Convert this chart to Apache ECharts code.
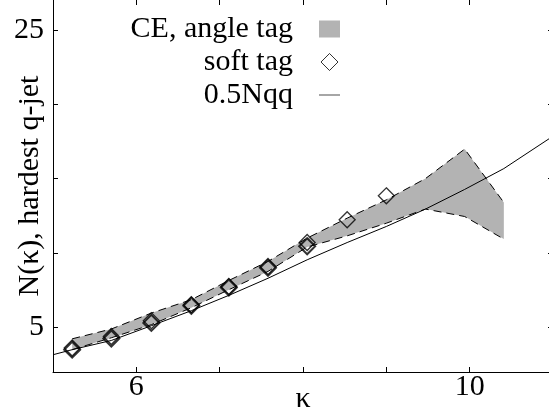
<!DOCTYPE html>
<html>
<head>
<meta charset="utf-8">
<script src="https://cdn.jsdelivr.net/npm/echarts@6/dist/echarts.min.js"></script>
<style>html,body{margin:0;padding:0;background:#fff}#main{width:549px;height:410px}</style>
</head>
<body>
<div id="main"></div>
<script>
// CE angle tag band (upper / lower edge)
var ceKappa = [5.23, 5.70, 6.18, 6.66, 7.11, 7.58, 8.05, 8.53, 9.00, 9.47, 9.94, 10.41];
var ceUpper = [4.23, 4.89, 5.96, 6.86, 8.15, 9.43, 11.0, 12.34, 13.57, 15.0, 16.98, 13.39];
var ceLower = [3.50, 4.30, 5.18, 6.32, 7.53, 8.76, 10.4, 11.15, 12.0, 12.95, 12.45, 10.93];

// soft tag markers (two overlapping sets)
var softKappa = [5.23, 5.70, 6.18, 6.66, 7.11, 7.58, 8.05, 8.53, 9.00];
var softTag = [3.61, 4.39, 5.45, 6.52, 7.75, 9.09, 10.7, 12.23, 13.84];
var softTag2 = [3.50, 4.25, 5.30, 6.45, 7.68, 9.00, 10.45];

// 0.5 Nqq curve
var nqqKappa = [5.0, 5.23, 5.70, 6.18, 6.66, 7.11, 7.58, 8.05, 8.53, 9.00, 9.47, 9.94, 10.41, 11.0];
var nqq = [3.16, 3.50, 4.12, 5.11, 6.12, 7.15, 8.30, 9.54, 10.7, 11.78, 12.95, 14.27, 15.67, 17.85];

var xTicks = [6, 7, 8, 9, 10];
var xLabels = [6, 10];
var yTicks = [5, 10, 15, 20, 25];
var yLabels = [5, 25];

function pairs(xs, ys) {
	return ys.map(function (y, i) { return [xs[i], y]; });
}

var font = 'Liberation Serif';
var myChart = echarts.init(document.getElementById('main'));

option = {
	animation: false,
	backgroundColor: '#fff',
	textStyle: { fontFamily: font, color: '#000' },
	grid: { left: 53, top: 0, width: 500, height: 372, containLabel: false, outerBoundsMode: 'none' },
	legend: {
		orient: 'vertical',
		align: 'right',
		right: 209,
		top: 14,
		padding: 0,
		itemGap: 3,
		itemWidth: 21,
		itemHeight: 17,
		textStyle: { fontFamily: font, fontSize: 30, color: '#000', padding: [0, 21, 0, 0] },
		data: [
			{ name: 'CE, angle tag', icon: 'rect', itemStyle: { color: '#b3b3b3' } },
			{ name: 'soft tag', icon: 'path://M0,-1L1,0L0,1L-1,0Z', itemStyle: { color: '#fff', borderColor: '#000', borderWidth: 1 } },
			{ name: '0.5Nqq', icon: 'path://M0,0L21,0L21,1.5L0,1.5Z', itemStyle: { color: '#888' } }
		]
	},
	xAxis: [{
		type: 'value', min: 5, max: 11,
		name: 'κ', nameLocation: 'middle', nameGap: 12, nameMoveOverlap: false,
		nameTextStyle: { fontFamily: font, fontSize: 30, color: '#000' },
		axisLine: { lineStyle: { color: '#000', width: 1 } },
		axisTick: { inside: true, length: 5, customValues: xTicks, lineStyle: { color: '#000' } },
		axisLabel: { customValues: xLabels, margin: 0, fontFamily: font, fontSize: 30, color: '#000' },
		splitLine: { show: false }
	}, {
		type: 'value', min: 5, max: 11, position: 'top',
		axisLine: { show: false },
		axisTick: { inside: true, length: 5, customValues: xTicks, lineStyle: { color: '#000' } },
		axisLabel: { show: false },
		splitLine: { show: false }
	}],
	yAxis: [{
		type: 'value', min: 2, max: 27,
		name: 'N(κ), hardest q-jet', nameLocation: 'middle', nameGap: 8, nameRotate: 90, nameMoveOverlap: false,
		nameTextStyle: { fontFamily: font, fontSize: 30, color: '#000' },
		axisLine: { show: true, lineStyle: { color: '#000', width: 1 } },
		axisTick: { show: true, inside: true, length: 5, customValues: yTicks, lineStyle: { color: '#000' } },
		axisLabel: { customValues: yLabels, margin: 9, fontFamily: font, fontSize: 30, color: '#000' },
		splitLine: { show: false }
	}, {
		type: 'value', min: 2, max: 27, position: 'right',
		axisLine: { show: false },
		axisTick: { show: true, inside: true, length: 5, customValues: yTicks, lineStyle: { color: '#000' } },
		axisLabel: { show: false },
		splitLine: { show: false }
	}],
	series: [
		{
			name: 'CE, angle tag',
			type: 'custom',
			itemStyle: { color: '#b3b3b3' },
			data: [[ceKappa[0], ceUpper[0]]],
			renderItem: function (params, api) {
				var pts = [];
				for (var i = 0; i < ceKappa.length; i++) pts.push(api.coord([ceKappa[i], ceUpper[i]]));
				for (var j = ceKappa.length - 1; j >= 0; j--) pts.push(api.coord([ceKappa[j], ceLower[j]]));
				return { type: 'polygon', shape: { points: pts }, style: { fill: '#b3b3b3' } };
			},
			z: 1
		},
		{
			name: 'ce upper', type: 'line', data: pairs(ceKappa, ceUpper),
			showSymbol: false, lineStyle: { color: '#000', width: 1, type: [8, 5] }, z: 2
		},
		{
			name: 'ce lower', type: 'line', data: pairs(ceKappa, ceLower),
			showSymbol: false, lineStyle: { color: '#000', width: 1, type: [8, 5] }, z: 2
		},
		{
			name: '0.5Nqq', type: 'line', data: pairs(nqqKappa, nqq),
			showSymbol: false, lineStyle: { color: '#000', width: 1 }, z: 3
		},
		{
			name: 'soft tag', type: 'scatter', data: pairs(softKappa, softTag),
			symbol: 'diamond', symbolSize: 16,
			itemStyle: { color: 'transparent', borderColor: '#000', borderWidth: 1.3 }, z: 4
		},
		{
			name: 'soft tag', type: 'scatter', data: pairs(softKappa, softTag2),
			symbol: 'diamond', symbolSize: 16,
			itemStyle: { color: 'transparent', borderColor: '#000', borderWidth: 2 }, z: 4
		}
	]
};

myChart.setOption(option);
</script>
</body>
</html>
